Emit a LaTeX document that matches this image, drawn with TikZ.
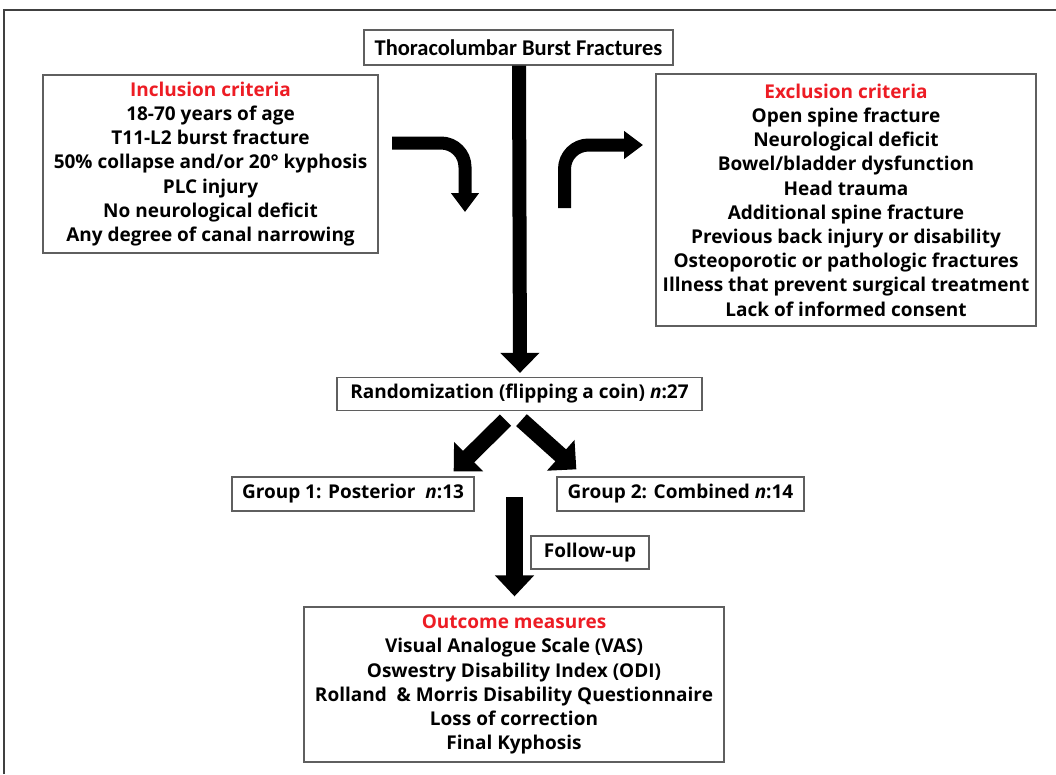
\documentclass[tikz,border=0pt]{standalone}
\usepackage{fontspec}
\setmainfont{Open Sans}
\newfontfamily\titlefont{Carlito}
\usetikzlibrary{arrows.meta,calc}
\definecolor{critred}{RGB}{237,28,36}
\definecolor{boxgray}{RGB}{95,95,95}
\begin{document}
\begin{tikzpicture}[x=1pt,y=-1pt,
  box/.style={draw=boxgray,line width=1.3pt,fill=white,inner sep=0pt,align=center,
    font=\bfseries\fontsize{19}{24.2}\selectfont},
  frame/.style={draw=black!75,line width=1.5pt},
  bigarrow/.style={line width=14pt,-{Triangle[width=38pt,length=20pt]}},
  diagarrow/.style={line width=16pt,-{Triangle[width=40pt,length=21pt]}},
  downarrow/.style={line width=17pt,-{Triangle[width=38pt,length=21pt]}},
  bendarrow/.style={line width=13pt,rounded corners=24pt,-{Triangle[width=27pt,length=19pt]}}
]
\useasboundingbox (0,0) rectangle (1056,774);
\draw[frame] (4,774) -- (4,10) -- (1056,10);

\node[box,minimum width=309pt,minimum height=35pt,
  font=\titlefont\bfseries\fontsize{22.5}{24}\selectfont] (title) at (518.5,47.5)
  {Thoracolumbar Burst Fractures};

\node[box,minimum width=335pt,minimum height=178pt] (incl) at (210.5,164)
  {{\color{critred}Inclusion criteria}\\
   18-70 years of age\\
   T11-L2 burst fracture\\
   50\% collapse and/or 20° kyphosis\\
   PLC injury\\
   No neurological deficit\\
   Any degree of canal narrowing};

\node[box,minimum width=380pt,minimum height=252pt] (excl) at (846,200)
  {{\color{critred}Exclusion criteria}\\
   Open spine fracture\\
   Neurological deficit\\
   Bowel/bladder dysfunction\\
   Head trauma\\
   Additional spine fracture\\
   Previous back injury or disability\\
   Osteoporotic or pathologic fractures\\
   Illness that prevent surgical treatment\\
   Lack of informed consent};

\node[box,minimum width=365pt,minimum height=33pt] (random) at (519.5,394)
  {Randomization (flipping a coin) \textit{n}:27};

\node[box,minimum width=242pt,minimum height=34pt] (group1) at (353,494)
  {Group 1: Posterior\ \ \textit{n}:13};
\node[box,minimum width=247pt,minimum height=34pt] (group2) at (680.5,494)
  {Group 2: Combined \textit{n}:14};

\node[box,minimum width=118pt,minimum height=33pt] (follow) at (590,552.5)
  {Follow-up};

\node[box,minimum width=420pt,minimum height=155pt] (outcome) at (514,684.5)
  {{\color{critred}Outcome measures}\\
   Visual Analogue Scale (VAS)\\
   Oswestry Disability Index (ODI)\\
   Rolland\ \ \& Morris Disability Questionnaire\\
   Loss of correction\\
   Final Kyphosis};

% main vertical arrow
\draw[bigarrow] ($(title.south)+(0.5,0)$) -- ($(random.north)+(0.5,-4)$);

% bent arrows
\coordinate (lb0) at (392,143);
\coordinate (lb1) at (465,143);
\coordinate (lb2) at (465,212);
\draw[bendarrow] (lb0) -- (lb1) -- (lb2);
\coordinate (rb0) at (564.5,208);
\coordinate (rb1) at (564.5,145);
\coordinate (rb2) at (643,145);
\draw[bendarrow] (rb0) -- (rb1) -- (rb2);

% diagonal arrows
\draw[diagarrow] ($(random.south)+(-14,9)$) -- ($(group1.north east)+(-21,-5)$);
\draw[diagarrow] ($(random.south)+(2,9)$) -- ($(group2.north west)+(20,-7)$);

% down arrow to outcome
\coordinate (dtop) at (514.5,497);
\draw[downarrow] (dtop) -- (dtop |- {$(outcome.north)+(0,-10)$});
\end{tikzpicture}
\end{document}
